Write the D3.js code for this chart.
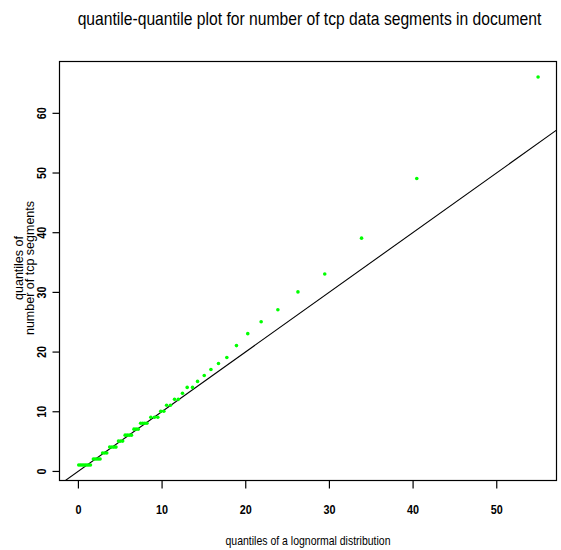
<!DOCTYPE html>
<html>
<head>
<meta charset="utf-8">
<script src="https://cdn.jsdelivr.net/npm/d3@7"></script>
<style>
  html, body { margin: 0; padding: 0; background: #fff; }
  svg { display: block; }
  text { font-family: "Liberation Sans", Arial, Helvetica, sans-serif; fill: #000; }
</style>
</head>
<body>
<svg id="chart" width="561" height="550"></svg>
<script>
// Sample quantiles (number of tcp data segments) against lognormal quantiles
const lognormalQuantiles = [
  0.1, 0.3, 0.5, 0.7, 0.9, 1.1, 1.3, 1.5,
  1.85, 2.05, 2.25, 2.45, 2.65,
  2.95, 3.2, 3.45,
  3.8, 4.05, 4.3, 4.55,
  4.85, 5.1, 5.35,
  5.65, 5.9, 6.15, 6.4,
  6.7, 6.95, 7.2,
  7.5, 7.75, 8.0, 8.25,
  8.72, 9.15, 9.55,
  9.9, 10.27,
  10.6, 11.06,
  11.55, 12.0,
  12.5,
  13.06, 13.7,
  14.3, 15.1, 15.9, 16.8, 17.8, 18.95, 20.3, 21.9, 23.9, 26.3, 29.5, 33.9, 40.5, 55.0
];
const segmentQuantiles = [
  1, 1, 1, 1, 1, 1, 1, 1,
  2, 2, 2, 2, 2,
  3, 3, 3,
  4, 4, 4, 4,
  5, 5, 5,
  6, 6, 6, 6,
  7, 7, 7,
  8, 8, 8, 8,
  9, 9, 9,
  10, 10,
  11, 11,
  12, 12,
  13,
  14, 14,
  15, 16, 17, 18, 19, 21, 23, 25, 27, 30, 33, 39, 49, 66
];
const xTicks = [0, 10, 20, 30, 40, 50];
const yTicks = [0, 10, 20, 30, 40, 50, 60];
// Reference line through the quartile pairs
const refIntercept = -0.1;
const refSlope = 1.0;

const titleText = "quantile-quantile plot for number of tcp data segments in document";
const xTitle = "quantiles of a lognormal distribution";
const yTitleLines = ["quantiles of", "number of tcp segments"];

const points = lognormalQuantiles.map((q, i) => ({ x: q, y: segmentQuantiles[i] }));

const svg = d3.select("#chart");
const box = { left: 59.5, right: 556.5, top: 61.5, bottom: 480.5 };

// Axis extents padded 4% beyond the data, as in a classic qq plot
const xExt = d3.extent([0].concat(lognormalQuantiles));
const yExt = d3.extent(segmentQuantiles);
const xPad = (xExt[1] - xExt[0]) * 0.04;
const yPad = (yExt[1] - yExt[0]) * 0.04;

const x = d3.scaleLinear().domain([xExt[0] - xPad, xExt[1] + xPad]).range([box.left, box.right]);
const y = d3.scaleLinear().domain([yExt[0] - yPad, yExt[1] + yPad]).range([box.bottom, box.top]);

// Condensed text: place at (cx, cy), squeeze horizontally, optional rotation
function narrowText(parent, cx, cy, str, size, sx, rot, weight) {
  return parent.append("text")
    .attr("transform", `translate(${cx},${cy}) rotate(${rot || 0}) scale(${sx},1)`)
    .attr("text-anchor", "middle")
    .style("font-size", size + "px")
    .style("font-weight", weight || "normal")
    .text(str);
}

svg.append("defs").append("clipPath").attr("id", "plotClip")
  .append("rect")
  .attr("x", box.left).attr("y", box.top)
  .attr("width", box.right - box.left).attr("height", box.bottom - box.top);

// Title
narrowText(svg, 309.5, 25, titleText, 17.5, 0.895);

// Reference line
const [d0, d1] = x.domain();
svg.append("line")
  .attr("clip-path", "url(#plotClip)")
  .attr("x1", x(d0)).attr("y1", y(refIntercept + refSlope * d0))
  .attr("x2", x(d1)).attr("y2", y(refIntercept + refSlope * d1))
  .attr("stroke", "#000").attr("stroke-width", 1.1);

// Points
svg.append("g").attr("clip-path", "url(#plotClip)")
  .selectAll("circle").data(points).join("circle")
  .attr("cx", d => x(d.x)).attr("cy", d => y(d.y))
  .attr("r", 1.8)
  .attr("fill", "#00ff00");

// Plot frame
svg.append("rect")
  .attr("x", box.left).attr("y", box.top)
  .attr("width", box.right - box.left).attr("height", box.bottom - box.top)
  .attr("fill", "none").attr("stroke", "#000").attr("stroke-width", 1.2);

// X axis
const xAxis = d3.axisBottom(x).tickValues(xTicks).tickSize(8).tickFormat(d3.format("d"));
const gx = svg.append("g").attr("transform", `translate(0,${box.bottom})`).call(xAxis);
gx.select(".domain").remove();
gx.selectAll(".tick line").attr("stroke", "#000").attr("stroke-width", 1.2);
gx.selectAll(".tick text").remove();
gx.selectAll(".tick").each(function (d) {
  narrowText(d3.select(this), 0, 33, d3.format("d")(d), 13.5, 0.8, 0, "bold");
});

// Y axis (labels rotated, reading upward)
const yAxis = d3.axisLeft(y).tickValues(yTicks).tickSize(7).tickFormat(d3.format("d"));
const gy = svg.append("g").attr("transform", `translate(${box.left},0)`).call(yAxis);
gy.select(".domain").remove();
gy.selectAll(".tick line").attr("stroke", "#000").attr("stroke-width", 1.2);
gy.selectAll(".tick text").remove();
gy.selectAll(".tick").each(function (d) {
  narrowText(d3.select(this), -13.5, 0, d3.format("d")(d), 13.5, 0.8, -90, "bold");
});

// Axis titles
narrowText(svg, 308, 545, xTitle, 12.5, 0.84);

const yt = svg.append("text")
  .attr("transform", `translate(23,${(box.top + box.bottom) / 2 - 3}) rotate(-90)`)
  .attr("text-anchor", "middle")
  .style("font-size", "12.5px");
yTitleLines.forEach((line, i) => {
  yt.append("tspan").attr("x", 0).attr("dy", i === 0 ? 0 : "0.85em").text(line);
});
</script>
</body>
</html>
